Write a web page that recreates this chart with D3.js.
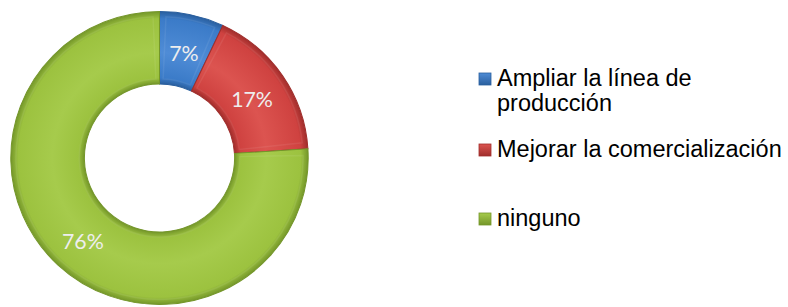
<html>
<head>
<script src="https://d3js.org/d3.v7.min.js"></script>
<style>
body { margin: 0; padding: 0; background: #fff; }
svg { display: block; }
.lbl { font-family: Lato, 'Open Sans', sans-serif; font-size: 21px; fill: #eeeeee; }
.leg text { font-family: 'Liberation Sans', Arial, sans-serif; font-size: 23.5px; fill: #000; }
</style>
</head>
<body>
<script>
var categories = ["Ampliar la línea de producción", "Mejorar la comercialización", "ninguno"];
var legendLines = [["Ampliar la línea de", "producción"], ["Mejorar la comercialización"], ["ninguno"]];
var values = [7, 17, 76];
var labels = ["7%", "17%", "76%"];
var colors = ["#3b7bc8", "#cf4240", "#9cc23f"];
var darks = ["#2a5f9e", "#a02e2c", "#74962a"];
var lights = ["#4f8cd6", "#dc5450", "#a6cb4c"];

var width = 788, height = 307;
var cx = 159.5, cy = 158, rOut = 146.5, rIn = 74;

var svg = d3.select("body").append("svg")
    .attr("width", width)
    .attr("height", height);

var defs = svg.append("defs");

colors.forEach(function (c, i) {
    var g = defs.append("radialGradient")
        .attr("id", "grad" + i)
        .attr("gradientUnits", "userSpaceOnUse")
        .attr("cx", 0).attr("cy", 0).attr("r", rOut);
    g.append("stop").attr("offset", rIn / rOut).attr("stop-color", darks[i]);
    g.append("stop").attr("offset", (rIn + 6) / rOut).attr("stop-color", c);
    g.append("stop").attr("offset", 0.72).attr("stop-color", lights[i]);
    g.append("stop").attr("offset", 0.95).attr("stop-color", c);
    g.append("stop").attr("offset", 1).attr("stop-color", darks[i]);

    var lg = defs.append("linearGradient")
        .attr("id", "lgrad" + i)
        .attr("x1", 0).attr("y1", 0).attr("x2", 0).attr("y2", 1);
    lg.append("stop").attr("offset", 0).attr("stop-color", lights[i]);
    lg.append("stop").attr("offset", 1).attr("stop-color", darks[i]);
});

var pie = d3.pie().sort(null).value(function (d) { return d; });
var arcs = pie(values);

var arc = d3.arc().innerRadius(rIn).outerRadius(rOut);
var labelArc = d3.arc().innerRadius((rIn + rOut) / 2).outerRadius((rIn + rOut) / 2);

var g = svg.append("g")
    .attr("transform", "translate(" + cx + "," + cy + ") scale(1.015,1)");

g.selectAll("path.slice")
    .data(arcs)
    .enter().append("path")
    .attr("class", "slice")
    .attr("d", arc)
    .attr("fill", function (d, i) { return "url(#grad" + i + ")"; })
    .attr("stroke", function (d, i) { return darks[i]; })
    .attr("stroke-width", 1);

// faint bevel edge inside each slice
var bevel = d3.arc().innerRadius(rIn + 5).outerRadius(rOut - 5);
g.selectAll("path.bevel")
    .data(arcs)
    .enter().append("path")
    .attr("class", "bevel")
    .attr("d", function (d) {
        var pad = 5 / ((rIn + rOut) / 2);
        return bevel({startAngle: d.startAngle + pad, endAngle: d.endAngle - pad});
    })
    .attr("fill", "none")
    .attr("stroke", "#ffffff")
    .attr("stroke-opacity", 0.07)
    .attr("stroke-width", 1.5);

g.selectAll("text.lbl")
    .data(arcs)
    .enter().append("text")
    .attr("class", "lbl")
    .attr("text-anchor", "middle")
    .attr("transform", function (d) {
        var p = labelArc.centroid(d);
        return "translate(" + p[0] + "," + (p[1] + 11) + ")";
    })
    .text(function (d, i) { return labels[i]; });

// legend
var legY = [86, 157, 226];
var leg = svg.append("g").attr("class", "leg");
categories.forEach(function (c, i) {
    var item = leg.append("g");
    item.append("rect")
        .attr("x", 479).attr("y", legY[i] - 13)
        .attr("width", 12).attr("height", 12)
        .attr("fill", "url(#lgrad" + i + ")")
        .attr("stroke", darks[i]).attr("stroke-width", 0.8);
    var t = item.append("text").attr("x", 497).attr("y", legY[i]);
    legendLines[i].forEach(function (line, j) {
        t.append("tspan").attr("x", 497).attr("dy", j === 0 ? 0 : 25).text(line);
    });
});
</script>
</body>
</html>
